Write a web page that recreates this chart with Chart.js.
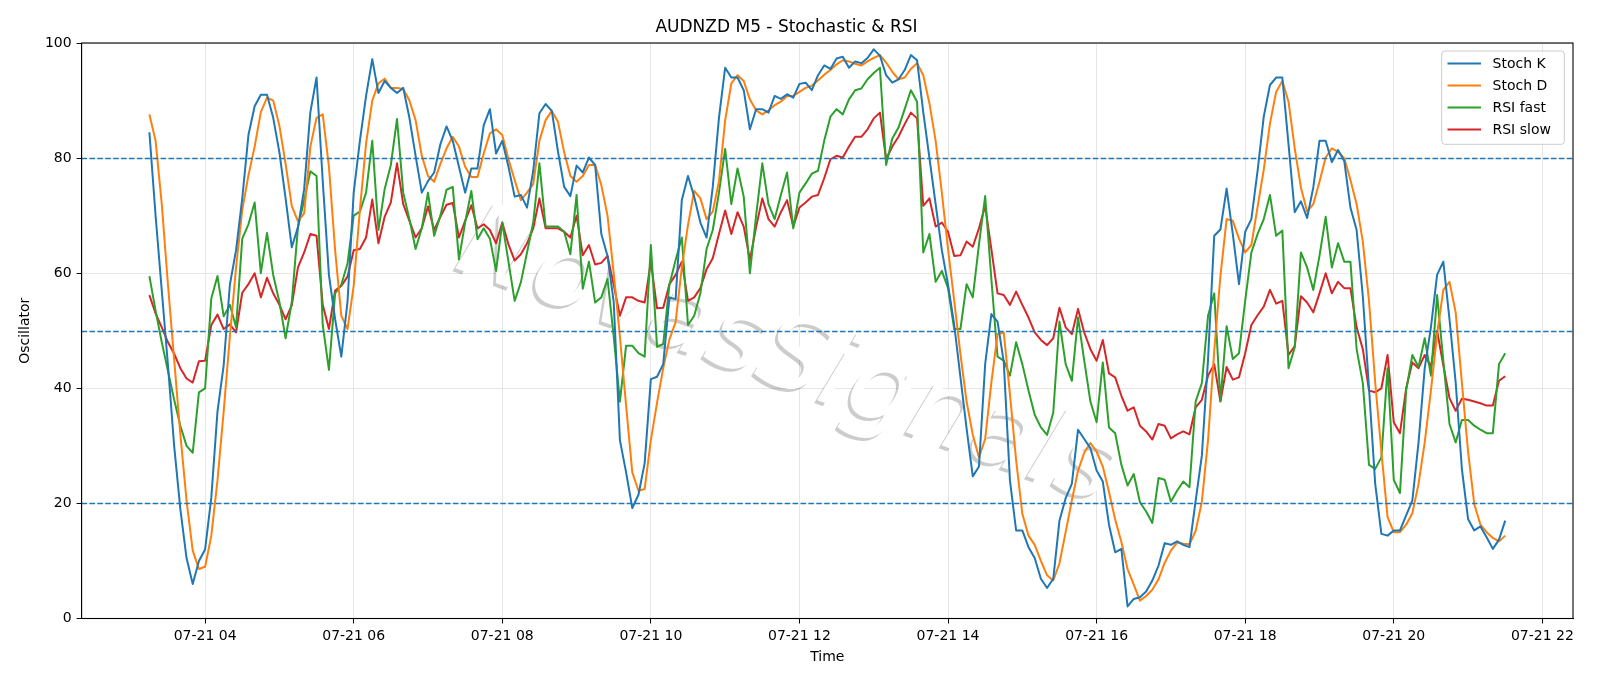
<!DOCTYPE html>
<html>
<head>
<meta charset="utf-8">
<script src="https://cdn.jsdelivr.net/npm/chart.js@4.4.1/dist/chart.umd.min.js"></script>
<style>
  html, body { margin: 0; padding: 0; background: #fff; }
</style>
</head>
<body>
<canvas id="oscChart" width="1600" height="686"></canvas>
<script>
// AUDNZD M5 - 5 minute bars from 03:15 to 21:30
const startMinute = 3 * 60 + 15;
const stepMinutes = 5;

const stochK = [
  84.5, 70, 57, 44, 30, 19, 10.5, 6, 10, 12,
  21, 36, 44, 58, 64, 73, 84, 89, 91, 91,
  87, 81, 73, 64.5, 68, 74.6, 88, 94, 76, 59.7,
  52, 45.5, 55, 74, 83, 90.8, 97.2, 91.3, 93.4, 92.2,
  91.3, 92.2, 87, 80.4, 74, 76, 77.5, 82.4, 85.5, 83,
  78.5, 74, 78.2, 78.2, 85.7, 88.5, 80.8, 83, 78.5, 73.3,
  73.6, 71.4, 77.8, 87.8, 89.4, 88.2, 81.1, 75, 73.4, 78.7,
  77.5, 80.1, 78.8, 66.8, 63, 55, 31, 25.4, 19.2, 21.5,
  27, 41.6, 42, 44.2, 55.8, 55.5, 72.7, 76.9, 73.3, 68.8,
  66.2, 75, 87, 95.7, 94, 94, 91.8, 85, 88.5, 88.5,
  87.9, 90.8, 90.3, 91.1, 90.5, 92.9, 93.1, 91.8, 94.4, 96.1,
  95.5, 97.3, 97.6, 95.7, 96.8, 96.5, 97.4, 98.9, 97.8, 94.4,
  93.1, 93.7, 95.3, 97.9, 97, 88, 80, 72, 64, 58,
  51, 42, 33, 24.7, 26.4, 44.2, 52.9, 51.6, 44.6, 24,
  15.3, 15.3, 12.4, 10.5, 6.9, 5.3, 6.9, 17, 20.9, 23.4,
  32.8, 31.2, 29.6, 25.7, 23.8, 16.3, 11.5, 12.1, 2.1, 3.4,
  3.7, 4.7, 6.6, 9.2, 13.1, 12.8, 13.4, 12.8, 12.4, 20.5,
  28.3, 45, 66.5, 67.6, 74.7, 66.8, 58.1, 67.2, 69.4, 77.8,
  87.2, 92.7, 94, 94, 82.4, 70.6, 72.5, 69.6, 74.9, 83,
  83, 79.3, 81.4, 79.5, 71.4, 67.5, 56, 40, 23.4, 14.7,
  14.4, 15.3, 15.3, 17.9, 20.5, 30.6, 43.5, 50.6, 59.7, 62,
  52, 41, 26, 17.3, 15.3, 16, 14.1, 12.1, 13.7, 17
];

const stochD = [
  87.6, 83, 72, 58, 45, 32, 20.5, 11.8, 8.6, 9,
  14.4, 24, 36, 49, 61, 71, 77, 82, 88, 90.5,
  90, 85.6, 79, 71.7, 69, 70.4, 82, 87, 87.6, 78.5,
  64, 52.6, 50.3, 57.8, 71, 82.5, 90, 93, 93.8, 92.2,
  92.2, 92, 90, 86.6, 80.4, 76.9, 75.9, 79, 81.7, 83.7,
  82, 78.5, 76.7, 76.7, 80.8, 84.3, 85, 84, 79.8, 76.2,
  72.7, 74, 75.5, 83, 86.6, 88.2, 86.3, 81, 76.9, 75.9,
  76.9, 78.8, 78.8, 75.3, 70, 60, 49, 37, 25.4, 22.2,
  22.5, 31, 37.5, 43.5, 48.5, 51.5, 61, 68.4, 74.3, 73,
  69.4, 70.7, 76, 86.5, 93, 94.4, 93.4, 90.2, 88.3, 87.6,
  88.3, 89.2, 89.8, 90.8, 90.8, 91.5, 92.2, 92.6, 93.5, 94.5,
  95.3, 96.3, 97, 96.8, 96.4, 96.1, 96.8, 97.4, 97.9, 96.6,
  95, 93.7, 94, 95.5, 96.5, 94.4, 89.5, 83, 74, 64.2,
  55.2, 46, 37.7, 31.9, 28, 31.2, 41, 49.4, 49.7, 39,
  27.5, 18.2, 14.4, 12.8, 10, 7.5, 6.6, 9.6, 15, 20.5,
  25.7, 28.8, 30.5, 29, 26.4, 22, 17.2, 13.3, 8.6, 5.9,
  3.1, 3.9, 5, 6.8, 9.7, 11.8, 13.2, 13, 12.9, 15.2,
  20.3, 31, 46.5, 59.5, 69.4, 69.1, 66, 63.6, 64.9, 71.5,
  78, 86, 91.5, 93.4, 89.8, 81.7, 74.9, 70.7, 72, 75.9,
  80.1, 81.7, 81.1, 80, 76.2, 72, 65.5, 55.2, 41, 29,
  17.6, 15, 15, 16.3, 18.3, 23.4, 30.6, 39.6, 49.4, 57.1,
  58.5, 53.2, 41, 29, 19.9, 16.3, 15, 14, 13.4, 14.4
];

const rsiFast = [
  59.5, 53.5, 48, 43, 38, 33.5, 30, 28.8, 39.3, 40,
  55.6, 59.5, 52.5, 54.5, 50.6, 66, 68.5, 72.3, 60, 67,
  59.7, 55, 48.7, 55, 68, 72.7, 77.7, 76.9, 51, 43.2,
  56.5, 58, 61.7, 70, 70.7, 74, 83, 67.5, 74.6, 78.8,
  86.8, 74, 69.4, 64.2, 67.8, 74, 66.5, 70, 74.5, 75,
  62.4, 68.8, 74.3, 65.9, 67.8, 66, 60.4, 68.8, 62, 55.2,
  58.4, 63.6, 68.8, 79.1, 68.1, 68.1, 68.1, 67.2, 63.3, 73.6,
  57.3, 62, 54.9, 55.8, 59, 49, 37.7, 47.4, 47.4, 46.1,
  45.5, 64.9, 47.2, 47.7, 58, 62.3, 66.2, 51, 52.6, 56.5,
  64.2, 67.5, 74, 81.6, 72, 78.2, 73.3, 60, 70, 79.1,
  72, 69.4, 73.6, 77.5, 67.8, 74, 75.6, 77.3, 77.8, 83,
  87.2, 88.5, 87.6, 90.2, 91.8, 92.1, 93.7, 94.8, 95.7, 78.8,
  83.4, 85.3, 88.5, 91.8, 89.8, 63.6, 66.8, 58.5, 60.4, 57.4,
  50.3, 50.3, 58.1, 55.8, 65, 73.4, 59, 45.5, 44.8, 42.2,
  48, 44.2, 39.6, 35.4, 33.2, 31.9, 35.8, 51.6, 44.2, 41.3,
  52.3, 44.8, 37.7, 34.1, 44.5, 33.2, 32.2, 26.7, 23.1, 25.1,
  20.2, 18.6, 16.6, 24.4, 24.1, 20.3, 22.2, 23.8, 22.8, 37.7,
  40.9, 52.6, 56.5, 37.8, 50.8, 45.1, 46.1, 55.2, 63.6, 66.8,
  69.4, 73.6, 66.5, 67.4, 43.5, 47.1, 63.6, 61, 57.1, 63,
  69.8, 61, 65.2, 62, 62, 46.8, 40.9, 26.7, 26, 28,
  43.5, 24.1, 21.8, 39.6, 45.8, 43.7, 48.7, 42.2, 56.2, 44.8,
  33.8, 30.6, 34.5, 34.5, 33.5, 32.8, 32.2, 32.2, 44.2, 46.1
];

const rsiSlow = [
  56.2, 53, 50.6, 48, 46, 43.5, 41.7, 41, 44.7, 44.8,
  51, 52.8, 50.3, 51.1, 49.7, 56.6, 58.1, 60, 55.8, 59.2,
  56.5, 54.5, 52, 54.4, 61, 63.6, 66.8, 66.5, 54.5, 50.3,
  57, 57.8, 59.4, 64, 64.2, 66.2, 72.8, 65.2, 69.8, 72.3,
  79.1, 72, 69.1, 66.2, 67.8, 71.6, 67.5, 69.8, 71.9, 72.2,
  66.2, 69.1, 71.8, 67.8, 68.5, 67.5, 65.2, 68.8, 65, 62.2,
  63.3, 65.2, 67.8, 73, 67.8, 67.8, 67.8, 67.2, 66.2, 70,
  63.1, 64.9, 61.5, 61.8, 63, 58, 52.6, 55.8, 55.8, 55.2,
  54.9, 62, 53.9, 54, 58.1, 59.7, 62, 55.2, 55.8, 57.4,
  60.7, 62.6, 66.8, 70.9, 66.8, 70.6, 68.1, 62.3, 68, 73,
  69.4, 68.1, 70.6, 72.7, 68.1, 71.4, 72.3, 73.3, 73.6, 76.5,
  79.8, 80.4, 80.1, 82, 83.7, 83.7, 85, 86.9, 87.9, 79.8,
  82, 83.7, 85.9, 87.9, 86.9, 71.7, 73, 68.1, 68.8, 67.2,
  63, 63.1, 65.5, 64.6, 67.8, 71.7, 64.2, 56.5, 56.2, 54.5,
  56.8, 54.5, 52.3, 49.7, 48.4, 47.5, 48.7, 54, 50.6, 49.4,
  53.8, 49.7, 46.8, 44.8, 48.4, 42.6, 41.9, 38.7, 36.1, 36.7,
  33.5, 32.5, 31.1, 33.8, 33.5, 31.3, 32, 32.5, 32, 36.7,
  38, 42.2, 44.2, 37.7, 43.7, 41.5, 41.9, 46.1, 51, 52.7,
  54.2, 57.1, 54.7, 55.2, 45.8, 47.3, 56, 54.9, 53.2, 56.5,
  60, 56.5, 58.5, 57.4, 57.4, 50.6, 46.8, 39.6, 39.3, 40,
  45.8, 34.1, 32.2, 40, 44.5, 43.5, 45.8, 43.8, 50, 44,
  38.3, 36.1, 38.2, 38, 37.7, 37.4, 37, 37, 41.3, 42.1
];

const seriesNames = ['Stoch K', 'Stoch D', 'RSI fast', 'RSI slow'];
const seriesColors = ['#1f77b4', '#ff7f0e', '#2ca02c', '#d62728'];
const levels = [20, 50, 80];

const tickMinutes = [240, 360, 480, 600, 720, 840, 960, 1080, 1200, 1320];
const tickLabels = ['07-21 04', '07-21 06', '07-21 08', '07-21 10', '07-21 12',
                    '07-21 14', '07-21 16', '07-21 18', '07-21 20', '07-21 22'];
const yTicks = [0, 20, 40, 60, 80, 100];

const FONT = "'DejaVu Sans', sans-serif";

const times = stochK.map((_, i) => startMinute + i * stepMinutes);
const span = times[times.length - 1] - times[0];
const xMin = times[0] - span * 0.05;
const xMax = times[times.length - 1] + span * 0.05;

function toPoints(vals) {
  return vals.map((v, i) => ({ x: times[i], y: v }));
}

function drawWatermark(ctx, cx, cy, style) {
  ctx.save();
  ctx.translate(cx, cy);
  ctx.rotate(20 * Math.PI / 180);
  const text = 'NovasSignals';
  ctx.font = "italic 90px 'DejaVu Sans'";
  const w = ctx.measureText(text).width;
  const size = 90 * 690 / w;
  ctx.font = "italic " + size + "px 'DejaVu Sans'";
  ctx.textAlign = 'center';
  ctx.textBaseline = 'middle';
  ctx.fillStyle = style;
  ctx.fillText(text, 0, 0);
  ctx.restore();
}

const decorPlugin = {
  id: 'decor',
  beforeDatasetsDraw(chart) {
    const { ctx, chartArea } = chart;
    ctx.save();
    ctx.beginPath();
    ctx.rect(chartArea.left, chartArea.top, chartArea.right - chartArea.left, chartArea.bottom - chartArea.top);
    ctx.clip();
    // shadow first, then the light face on top
    drawWatermark(ctx, 786 - 3, 360 + 3, 'rgba(0,0,0,0.2)');
    drawWatermark(ctx, 786, 360, 'rgba(255,255,255,1)');
    ctx.restore();
  },
  afterDatasetsDraw(chart) {
    const { ctx, chartArea, scales } = chart;
    ctx.save();
    ctx.strokeStyle = '#1f77b4';
    ctx.lineWidth = 1.4;
    ctx.setLineDash([5.5, 2.4]);
    levels.forEach(lv => {
      const y = Math.round(scales.y.getPixelForValue(lv)) + 0.5;
      ctx.beginPath();
      ctx.moveTo(chartArea.left, y);
      ctx.lineTo(chartArea.right, y);
      ctx.stroke();
    });
    ctx.restore();
  },
  afterDraw(chart) {
    const { ctx, chartArea } = chart;
    ctx.save();
    // spines
    ctx.strokeStyle = '#000';
    ctx.lineWidth = 1.1;
    ctx.strokeRect(chartArea.left, chartArea.top, chartArea.right - chartArea.left, chartArea.bottom - chartArea.top);

    // legend
    const bx = 1441.7, by = 51, bw = 122.6, bh = 93.3;
    ctx.beginPath();
    ctx.roundRect(bx, by, bw, bh, 3);
    ctx.fillStyle = 'rgba(255,255,255,0.8)';
    ctx.fill();
    ctx.strokeStyle = '#cccccc';
    ctx.lineWidth = 1;
    ctx.stroke();
    ctx.font = '14px ' + FONT;
    ctx.textBaseline = 'middle';
    ctx.textAlign = 'left';
    chart.data.datasets.forEach((ds, i) => {
      const y = 63.5 + i * 22;
      ctx.strokeStyle = ds.borderColor;
      ctx.lineWidth = 2;
      ctx.beginPath();
      ctx.moveTo(1447.5, y);
      ctx.lineTo(1481, y);
      ctx.stroke();
      ctx.fillStyle = '#000';
      ctx.fillText(ds.label, 1492.5, y + 1);
    });
    ctx.restore();
  }
};

const tickFont = { family: FONT, size: 14 };

new Chart(document.getElementById('oscChart'), {
  type: 'line',
  data: {
    datasets: [stochK, stochD, rsiFast, rsiSlow].map((vals, i) => ({
      label: seriesNames[i],
      data: toPoints(vals),
      borderColor: seriesColors[i],
      backgroundColor: seriesColors[i],
      borderWidth: 2,
      pointRadius: 0,
      tension: 0,
      fill: false,
      borderJoinStyle: 'round'
    }))
  },
  options: {
    responsive: false,
    animation: false,
    devicePixelRatio: 1,
    layout: { padding: { left: 0, right: 27, top: 0, bottom: 0 } },
    plugins: {
      legend: { display: false },
      tooltip: { enabled: false },
      title: {
        display: true,
        text: 'AUDNZD M5 - Stochastic & RSI',
        color: '#000',
        font: { family: FONT, size: 17, weight: 'normal' },
        padding: { top: 17.5, bottom: 5.1 }
      }
    },
    scales: {
      x: {
        type: 'linear',
        min: xMin,
        max: xMax,
        afterBuildTicks: (s) => { s.ticks = tickMinutes.map(v => ({ value: v })); },
        afterFit: (s) => { s.height = 67.5; },
        ticks: {
          autoSkip: false,
          maxRotation: 0,
          color: '#000',
          font: tickFont,
          padding: 4,
          callback: (v) => tickLabels[tickMinutes.indexOf(v)]
        },
        grid: { color: '#e6e6e6', lineWidth: 1, tickLength: 5, tickColor: '#000' },
        border: { color: '#000', width: 1 },
        title: { display: true, text: 'Time', color: '#000', font: tickFont, padding: { top: 0, bottom: 20.6 } }
      },
      y: {
        min: 0,
        max: 100,
        afterBuildTicks: (s) => { s.ticks = yTicks.map(v => ({ value: v })); },
        afterFit: (s) => { s.width = 81.6; },
        ticks: { color: '#000', font: tickFont, padding: 5 },
        grid: { color: '#e6e6e6', lineWidth: 1, tickLength: 5, tickColor: '#000' },
        border: { color: '#000', width: 1 },
        title: { display: true, text: 'Oscillator', color: '#000', font: tickFont, padding: { top: 16.6, bottom: 0 } }
      }
    }
  },
  plugins: [decorPlugin]
});
</script>
</body>
</html>
